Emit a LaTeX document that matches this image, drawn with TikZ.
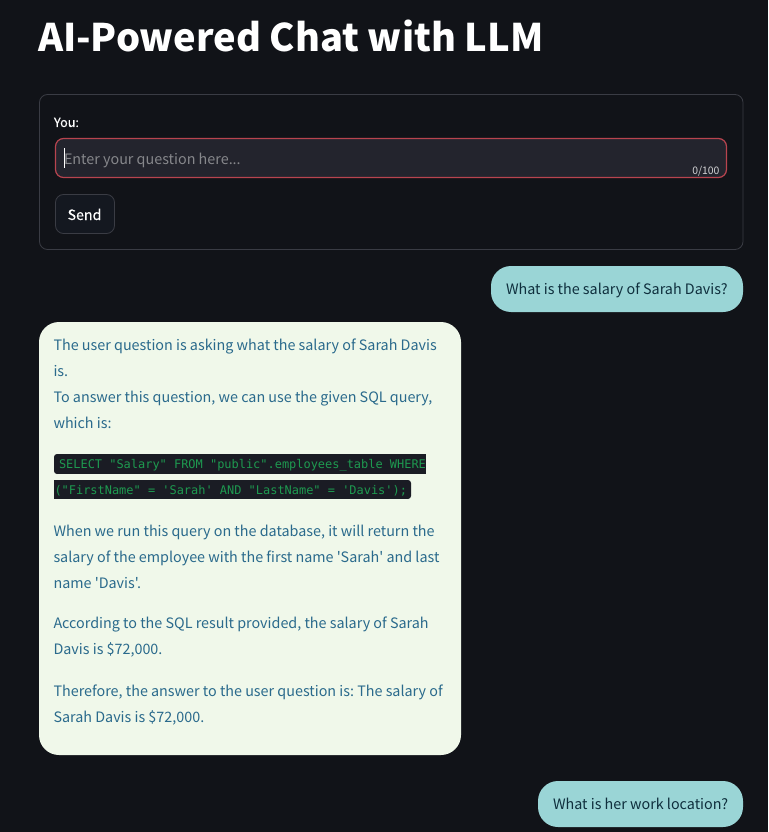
\documentclass[tikz,border=0pt]{standalone}
\usepackage{fontspec}
\setmainfont[Ligatures=TeXOff]{Noto Sans CJK SC}
\newfontfamily\medfont[Ligatures=TeXOff,FakeBold=0.25]{Noto Sans CJK SC}
\setmonofont[Ligatures=TeXOff]{DejaVu Sans Mono}
\definecolor{pagebg}{HTML}{111318}
\definecolor{frameedge}{HTML}{3A3C44}
\definecolor{inputfill}{HTML}{23242D}
\definecolor{inputedge}{HTML}{B8444F}
\definecolor{btnfill}{HTML}{141820}
\definecolor{userfill}{HTML}{9AD5D6}
\definecolor{userink}{HTML}{0F2F3D}
\definecolor{botfill}{HTML}{F0F8EA}
\definecolor{botink}{HTML}{2A6A8C}
\definecolor{codefill}{HTML}{1A1C24}
\definecolor{codeink}{HTML}{1E9A50}
\tikzset{
  x=1pt,y=-1pt,
  txt/.style={anchor=base west,inner sep=0pt,outer sep=0pt},
  botline/.style={txt,text=botink,font=\frenchspacing\fontsize{14.35}{16}\selectfont},
  codeline/.style={txt,text=codeink,font=\frenchspacing\ttfamily\fontsize{11.95}{12}\selectfont},
  userline/.style={txt,text=userink,font=\frenchspacing\fontsize{14.35}{16}\selectfont},
}
\begin{document}
\begin{tikzpicture}
\useasboundingbox (0,0) rectangle (768,832);
\fill[pagebg] (0,0) rectangle (768,832);
\node[txt,text=white,font=\bfseries\fontsize{38}{40}\selectfont] (title) at (38,52) {AI-Powered Chat with LLM};
% form
\draw[frameedge,rounded corners=8pt,line width=0.8pt] (39.5,94.5) rectangle (743,249.5);
\node[txt,text=white,font=\medfont\fontsize{12.6}{14}\selectfont] (you) at (54,127) {You:};
\draw[inputedge,fill=inputfill,rounded corners=8pt,line width=1.2pt] (55.5,138.5) rectangle (726.5,177.5);
\node[txt,text=white!45!inputfill,font=\fontsize{14.35}{16}\selectfont] (hint) at (64,164) {Enter your question here...};
\draw[white,line width=0.8pt] (64.5,148) -- (64.5,168);
\node[txt,anchor=base east,text=white!80!inputfill,font=\fontsize{10.4}{12}\selectfont] (count) at (719.5,174) {0/100};
\draw[frameedge,fill=btnfill,rounded corners=8pt,line width=0.8pt] (55.5,194.5) rectangle (114.5,233.5);
\node[txt,anchor=base,text=white,font=\medfont\fontsize{14.2}{16}\selectfont] (send) at (84.5,220) {Send};
% user bubble 1
\fill[userfill,rounded corners=20pt] (491,266) rectangle (743,312);
\node[userline] (u1) at (506,294) {What is the salary of Sarah Davis?};
% bot bubble
\fill[botfill,rounded corners=20pt] (39,322) rectangle (461,755);
\node[botline] (b1) at (53.5,350) {The user question is asking what the salary of Sarah Davis};
\node[botline] (b2) at (53.5,376) {is.};
\node[botline] (b3) at (53.5,402) {To answer this question, we can use the given SQL query,};
\node[botline] (b4) at (53.5,428) {which is:};
\fill[codefill,rounded corners=3pt] (54,454) rectangle (60,474);
\fill[codefill] (57,454) rectangle (426,474);
\fill[codefill,rounded corners=3pt] (405,480) rectangle (411,499);
\fill[codefill] (54,480) rectangle (408,499);
\node[codeline] (c1) at (59,468) {SELECT "Salary" FROM "public".employees\_table WHERE};
\node[codeline] (c2) at (54.5,494) {("FirstName" = 'Sarah' AND "LastName" = 'Davis');};
\node[botline] (b5) at (53.5,536) {When we run this query on the database, it will return the};
\node[botline] (b6) at (53.5,562) {salary of the employee with the first name 'Sarah' and last};
\node[botline] (b7) at (53.5,588) {name 'Davis'.};
\node[botline] (b8) at (53.5,628) {According to the SQL result provided, the salary of Sarah};
\node[botline] (b9) at (53.5,654) {Davis is \$72,000.};
\node[botline] (b10) at (53.5,696) {Therefore, the answer to the user question is: The salary of};
\node[botline] (b11) at (53.5,722) {Sarah Davis is \$72,000.};
% user bubble 2
\fill[userfill,rounded corners=20pt] (538,781) rectangle (743,827);
\node[userline] (u2) at (553,809) {What is her work location?};
\end{tikzpicture}
\end{document}
